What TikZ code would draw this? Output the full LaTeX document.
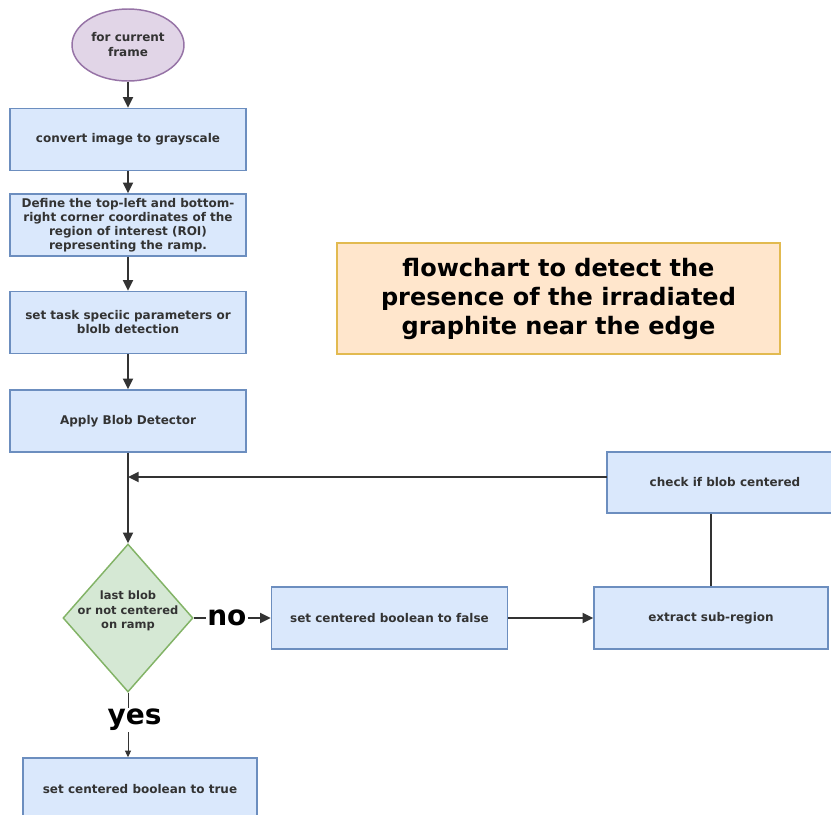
\documentclass[tikz,border=0pt]{standalone}
\usepackage{fontspec}
\setmainfont{DejaVu Sans}
\usetikzlibrary{shapes.geometric,arrows.meta}

\definecolor{boxfill}{RGB}{218,232,252}
\definecolor{boxline}{RGB}{108,142,191}
\definecolor{decfill}{RGB}{213,232,212}
\definecolor{decline}{RGB}{130,179,102}
\definecolor{startfill}{RGB}{225,213,231}
\definecolor{startline}{RGB}{150,115,166}
\definecolor{titlefill}{RGB}{255,230,204}
\definecolor{titleline}{RGB}{226,186,80}
\definecolor{ink}{RGB}{51,51,51}

\tikzset{every picture/.style={line width=0.75pt}}
\tikzset{
  procbox/.style={draw=boxline, fill=boxfill, line width=1.1pt, minimum width=177pt, minimum height=46.5pt,
    align=center, text=ink, inner sep=1pt, font=\bfseries\fontsize{9}{10.5}\selectfont},
  startshape/.style={ellipse, draw=startline, fill=startfill, line width=1.1pt, minimum width=84pt, minimum height=54pt,
    align=center, text=ink, inner sep=0pt, font=\bfseries\fontsize{9}{11.25}\selectfont},
  decshape/.style={diamond, draw=decline, fill=decfill, line width=1.1pt, minimum width=97.5pt, minimum height=111pt, inner sep=0pt},
  titlebox/.style={draw=titleline, fill=titlefill, line width=1.1pt, minimum width=332pt, minimum height=83pt,
    align=center, inner sep=0pt, font=\bfseries\fontsize{18}{21.75}\selectfont},
  flow/.style={draw=ink, line width=1.5pt, -{Triangle[length=8pt,width=7.5pt]}},
  thinflow/.style={draw=ink, line width=0.75pt, -{Triangle[length=5pt,width=4.5pt]}},
  plainline/.style={draw=ink, line width=1.5pt},
  answer/.style={fill=white, inner sep=1pt, text=black, font=\bfseries\fontsize{21}{21}\selectfont}
}

\begin{document}
\begin{tikzpicture}[x=0.75pt,y=0.75pt,yscale=-1,xscale=1]
\path[use as bounding box] (0,0) rectangle (831,814);

%Shape: Ellipse [start]
\node [startshape] (start) at (128,45) {for current\\frame};
%Shape: Rectangle [steps down the left]
\node [procbox] (gray) at (128,139.5) {convert image to grayscale};
\node [procbox] (roi) at (128,225) {Define the top-left and bottom-\\right corner coordinates of the\\region of interest (ROI)\\representing the ramp.};
\node [procbox] (params) at (128,322.5) {set task speciic parameters or\\blolb detection};
\node [procbox] (detector) at (128,421) {Apply Blob Detector};
%Shape: Diamond [decision]
\node [decshape] (lastblob) at (128,618) {};
\node [align=center, text=ink, inner sep=0pt, font=\bfseries\fontsize{8.6}{11}\selectfont] (lastblobtext) at (128,611) {last blob\\or not centered\\on ramp};
%Shape: Rectangle [loop on the right]
\node [procbox] (setfalse) at (389.5,618) {set centered boolean to false};
\node [procbox, minimum width=175.5pt] (subregion) at (711,618) {extract sub-region};
\node [procbox, minimum height=45.75pt] (centered) at (725,482.5) {check if blob centered};
\coordinate (backin) at (607,477);
%Shape: Rectangle [result]
\node [procbox, minimum width=175.5pt] (settrue) at (140,789) {set centered boolean to true};
%Shape: Rectangle [title]
\node [titlebox] (title) at (558.5,298.5) {flowchart to detect the\\presence of the irradiated\\graphite near the edge};

%Straight Lines
\draw [flow] (start) -- (gray);
\draw [flow] (gray) -- (roi);
\draw [flow] (roi) -- (params);
\draw [flow] (params) -- (detector);
\draw [flow] (detector) -- (lastblob);
\draw [flow] (lastblob.east) -- node [answer, pos=0.43] {no} (setfalse.west);
\draw [flow] (setfalse.east) -- (setfalse.east -| subregion.west);
\draw [plainline] (subregion.north) -- (subregion.north |- centered.south);
\draw [flow] (backin) -- (backin -| detector.south);
\draw [thinflow] (lastblob.south) -- node [answer, pos=0.42, xshift=5pt] {yes} (lastblob.south |- settrue.north);

\end{tikzpicture}
\end{document}
